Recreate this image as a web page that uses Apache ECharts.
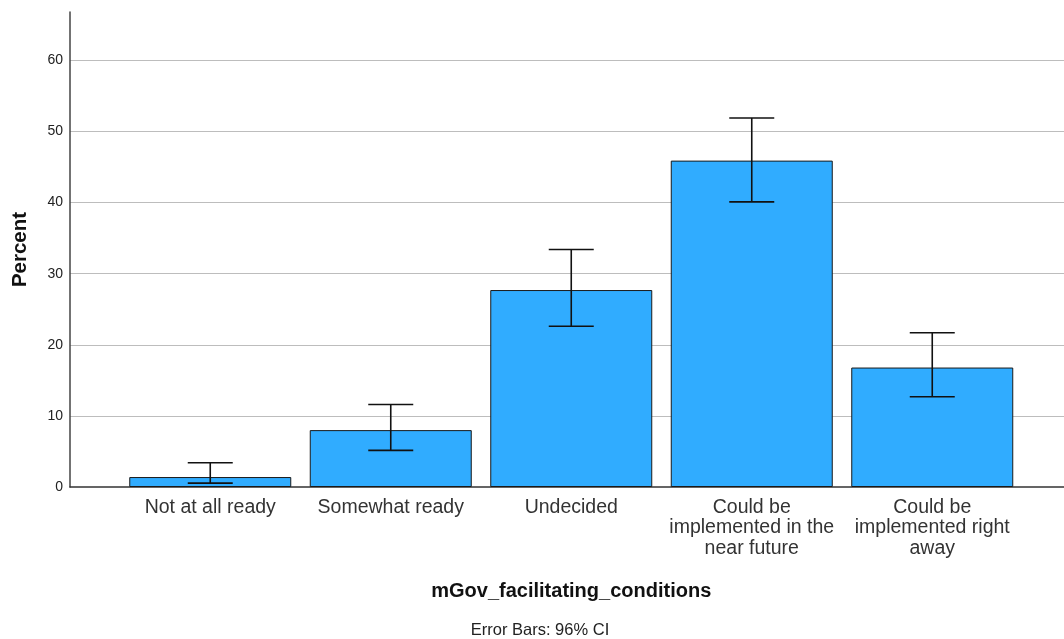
<!DOCTYPE html>
<html>
<head>
<meta charset="utf-8">
<script src="https://cdn.jsdelivr.net/npm/echarts@6/dist/echarts.min.js"></script>
<style>html,body{margin:0;padding:0;background:#fff}#c{width:1064px;height:639px}</style>
</head>
<body>
<div id="c"></div>
<script>
const categories = ['Not at all ready', 'Somewhat ready', 'Undecided', 'Could be\nimplemented in the\nnear future', 'Could be\nimplemented right\naway'];
const percentValues = [1.4, 8.0, 27.7, 45.9, 16.8];
const ciLower = [0.55, 5.15, 22.6, 40.1, 12.7];
const ciUpper = [3.4, 11.6, 33.4, 51.9, 21.7];
const yTicks = [0, 10, 20, 30, 40, 50, 60];

const FONT = '"Liberation Sans", Arial, sans-serif';
const chart = echarts.init(document.getElementById('c'), null, {renderer: 'canvas'});
const errData = categories.map((c, i) => [i, ciLower[i], ciUpper[i]]);

chart.setOption({
  animation: false,
  backgroundColor: '#fff',
  title: {
    text: 'Error Bars: 96% CI',
    left: 535, top: 617, padding: 5, textAlign: 'center',
    textStyle: {fontFamily: FONT, fontSize: 16.5, fontWeight: 'normal', color: '#222'}
  },
  grid: [
    {left: 70, right: 0, top: 12, bottom: 152, outerBoundsMode: 'none', containLabel: false},
    {left: 120, right: 41.5, top: 12, bottom: 152, outerBoundsMode: 'none', containLabel: false}
  ],
  xAxis: [
    {type: 'value', gridIndex: 0, min: 0, max: 1,
     axisLine: {show: true, onZero: false, lineStyle: {color: '#333', width: 1.5}},
     axisTick: {show: false}, axisLabel: {show: false}, splitLine: {show: false}},
    {type: 'category', gridIndex: 1, data: categories,
     axisLine: {show: false}, axisTick: {show: false},
     axisLabel: {interval: 0, margin: 10, fontFamily: FONT, fontSize: 19.5, color: '#333', lineHeight: 20.5},
     name: 'mGov_facilitating_conditions', nameLocation: 'middle', nameGap: 94,
     nameTextStyle: {fontFamily: FONT, fontSize: 20, fontWeight: 'bold', color: '#111'}}
  ],
  yAxis: [
    {type: 'value', gridIndex: 0, min: 0, max: 66.8, interval: 10,
     axisLine: {show: true, lineStyle: {color: '#444', width: 1.5}},
     axisTick: {show: false},
     axisLabel: {margin: 7, fontFamily: FONT, fontSize: 14, color: '#222',
       customValues: yTicks, formatter: v => String(v)},
     splitLine: {show: true, lineStyle: {color: '#bdbdbd', width: 1}, showMinLine: false, showMaxLine: false},
     name: 'Percent', nameLocation: 'middle', nameGap: 39, nameRotate: 90,
     nameTextStyle: {fontFamily: FONT, fontSize: 20.5, fontWeight: 'bold', color: '#111'}},
    {type: 'value', gridIndex: 1, min: 0, max: 66.8, show: false}
  ],
  series: [
    {type: 'bar', xAxisIndex: 1, yAxisIndex: 1, data: percentValues, barWidth: 162,
     itemStyle: {color: '#30acff', borderColor: '#1a1a1a', borderWidth: 1}, silent: true},
    {type: 'custom', xAxisIndex: 1, yAxisIndex: 1, data: errData, encode: {x: 0, y: [1, 2]},
     silent: true, z: 10,
     renderItem: function (params, api) {
       const x = api.value(0);
       const lo = api.coord([x, api.value(1)]);
       const hi = api.coord([x, api.value(2)]);
       const half = 22.5;
       const st = {stroke: '#111', lineWidth: 1.6};
       return {type: 'group', children: [
         {type: 'line', shape: {x1: lo[0], y1: lo[1], x2: hi[0], y2: hi[1]}, style: st},
         {type: 'line', shape: {x1: hi[0] - half, y1: hi[1], x2: hi[0] + half, y2: hi[1]}, style: st},
         {type: 'line', shape: {x1: lo[0] - half, y1: lo[1], x2: lo[0] + half, y2: lo[1]}, style: st}
       ]};
     }}
  ]
});
</script>
</body>
</html>
